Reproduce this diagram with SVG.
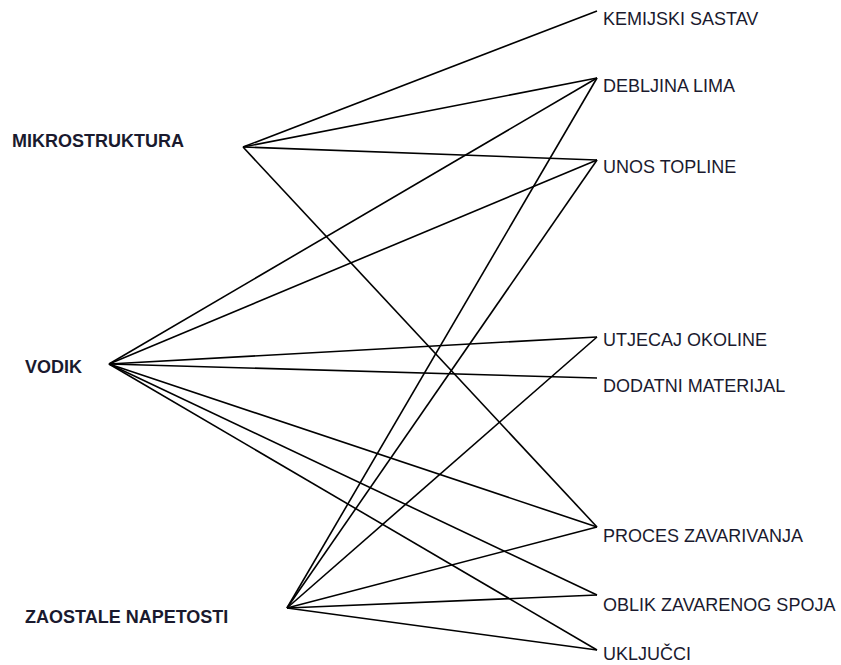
<svg xmlns="http://www.w3.org/2000/svg" width="841" height="665" viewBox="0 0 841 665">
<style>
.l{stroke:#000;stroke-width:1.6;fill:none}
.t{font-family:"Liberation Sans",Arial,sans-serif;font-size:18px;fill:#1a1a2e}
.b{font-family:"Liberation Sans",Arial,sans-serif;font-size:18px;font-weight:bold;fill:#1a1a2e}
</style>
<rect width="841" height="665" fill="#fff"/>
<g id="connectors">
<line class="l" x1="243" y1="147" x2="597" y2="11"/>
<line class="l" x1="243" y1="147" x2="597" y2="78"/>
<line class="l" x1="243" y1="147" x2="597" y2="160"/>
<line class="l" x1="243" y1="147" x2="597" y2="527"/>
<line class="l" x1="109" y1="364" x2="597" y2="78"/>
<line class="l" x1="109" y1="364" x2="597" y2="160"/>
<line class="l" x1="109" y1="364" x2="597" y2="337"/>
<line class="l" x1="109" y1="364" x2="597" y2="378"/>
<line class="l" x1="109" y1="364" x2="597" y2="527"/>
<line class="l" x1="109" y1="364" x2="597" y2="595"/>
<line class="l" x1="109" y1="364" x2="597" y2="650"/>
<line class="l" x1="287" y1="608" x2="597" y2="78"/>
<line class="l" x1="287" y1="608" x2="597" y2="160"/>
<line class="l" x1="287" y1="608" x2="597" y2="337"/>
<line class="l" x1="287" y1="608" x2="597" y2="527"/>
<line class="l" x1="287" y1="608" x2="597" y2="595"/>
<line class="l" x1="287" y1="608" x2="597" y2="650"/>
</g>
<g id="mikrostruktura"><text class="b" x="12" y="147">MIKROSTRUKTURA</text></g>
<g id="vodik"><text class="b" x="25" y="373">VODIK</text></g>
<g id="zaostale"><text class="b" x="25" y="623">ZAOSTALE NAPETOSTI</text></g>
<g id="kemijski"><text class="t" x="603" y="25">KEMIJSKI SASTAV</text></g>
<g id="debljina"><text class="t" x="603" y="92">DEBLJINA LIMA</text></g>
<g id="unos"><text class="t" x="603" y="173">UNOS TOPLINE</text></g>
<g id="utjecaj"><text class="t" x="603" y="346">UTJECAJ OKOLINE</text></g>
<g id="dodatni"><text class="t" x="603" y="392">DODATNI MATERIJAL</text></g>
<g id="proces"><text class="t" x="603" y="542">PROCES ZAVARIVANJA</text></g>
<g id="oblik"><text class="t" x="603" y="611">OBLIK ZAVARENOG SPOJA</text></g>
<g id="ukljucci"><text class="t" x="603" y="660">UKLJUČCI</text></g>
</svg>
